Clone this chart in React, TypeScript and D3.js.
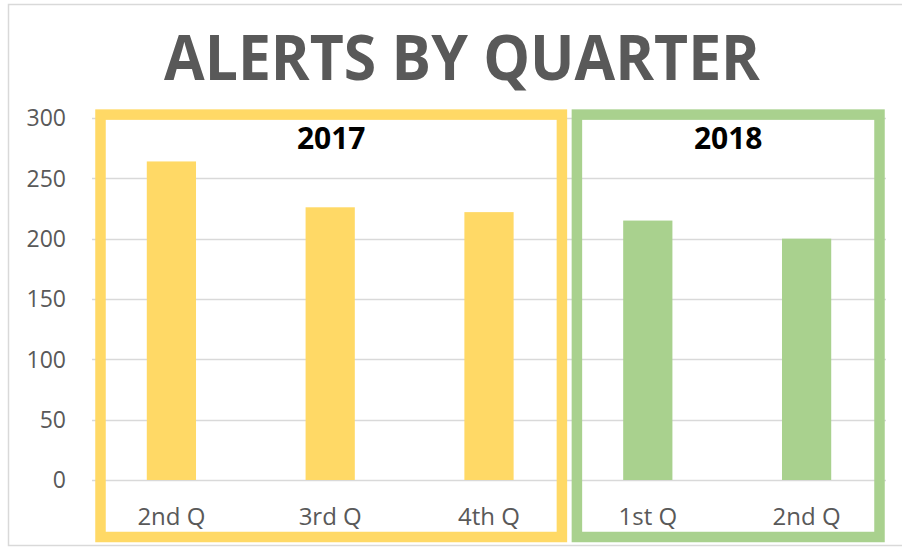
import React, { useEffect, useRef } from 'react';
import * as d3 from 'd3';

const quarters = ['2nd Q', '3rd Q', '4th Q', '1st Q', '2nd Q'];
const years = ['2017', '2017', '2017', '2018', '2018'];
const alerts = [264, 226, 222, 215, 200];
const yTicks = [0, 50, 100, 150, 200, 250, 300];
const yearGroups = ['2017', '2018'];
const yearColors = ['#FFD966', '#A9D18E'];

const App = () => {
  const svgRef = useRef<SVGSVGElement>(null);
  const svgWidth = 902;
  const svgHeight = 548;
  const plot = { left: 92, right: 886, top: 118, bottom: 480 };

  useEffect(() => {
    const svg = d3.select(svgRef.current);
    svg.selectAll('*').remove();

    const font = "'Open Sans', sans-serif";
    const textColor = '#595959';

    const x = d3.scaleBand<number>()
      .domain(d3.range(quarters.length))
      .range([plot.left, plot.right])
      .paddingInner(0.69)
      .paddingOuter(0.345);

    const y = d3.scaleLinear()
      .domain([0, 300])
      .range([plot.bottom, plot.top]);

    const color = d3.scaleOrdinal<string, string>()
      .domain(yearGroups)
      .range(yearColors);

    // chart frame
    svg.append('rect')
      .attr('x', 8.5).attr('y', 4.5)
      .attr('width', 900).attr('height', 541)
      .attr('fill', 'white')
      .attr('stroke', '#d9d9d9')
      .attr('stroke-width', 1.5);

    // title
    svg.append('text')
      .attr('x', 462).attr('y', 80)
      .attr('text-anchor', 'middle')
      .attr('font-family', font)
      .attr('font-weight', 700)
      .attr('font-size', 63)
      .attr('fill', textColor)
      .attr('textLength', 596)
      .attr('lengthAdjust', 'spacingAndGlyphs')
      .text('ALERTS BY QUARTER');

    // gridlines
    svg.append('g')
      .selectAll('line')
      .data(yTicks)
      .enter().append('line')
      .attr('x1', plot.left).attr('x2', plot.right)
      .attr('y1', d => Math.round(y(d)) + 0.5)
      .attr('y2', d => Math.round(y(d)) + 0.5)
      .attr('stroke', '#d9d9d9')
      .attr('stroke-width', 1.3);

    // y tick labels
    svg.append('g')
      .selectAll('text')
      .data(yTicks)
      .enter().append('text')
      .attr('x', 66)
      .attr('y', d => y(d))
      .attr('dy', '0.36em')
      .attr('text-anchor', 'end')
      .attr('font-family', font)
      .attr('font-size', 23)
      .attr('fill', textColor)
      .text(d => d);

    // bars
    svg.append('g')
      .selectAll('rect')
      .data(alerts)
      .enter().append('rect')
      .attr('x', (d, i) => x(i))
      .attr('y', d => y(d))
      .attr('width', x.bandwidth())
      .attr('height', d => y(0) - y(d))
      .attr('fill', (d, i) => color(years[i]));

    // category labels
    svg.append('g')
      .selectAll('text')
      .data(quarters)
      .enter().append('text')
      .attr('x', (d, i) => x(i) + x.bandwidth() / 2)
      .attr('y', 525)
      .attr('text-anchor', 'middle')
      .attr('font-family', font)
      .attr('font-size', 24)
      .attr('fill', textColor)
      .text(d => d);

    // year boxes
    const step = x.step();
    yearGroups.forEach(year => {
      const idx = years.map((yr, i) => (yr === year ? i : -1)).filter(i => i >= 0);
      const x0 = plot.left + step * idx[0] + 8.5;
      const x1 = plot.left + step * (idx[idx.length - 1] + 1) - 6.5;
      svg.append('rect')
        .attr('x', x0).attr('y', 114.6)
        .attr('width', x1 - x0).attr('height', 537 - 114.6)
        .attr('fill', 'none')
        .attr('stroke', color(year))
        .attr('stroke-width', 10.5);
      svg.append('text')
        .attr('x', (x0 + x1) / 2)
        .attr('y', 149)
        .attr('text-anchor', 'middle')
        .attr('font-family', font)
        .attr('font-weight', 700)
        .attr('font-size', 30)
        .attr('fill', '#000')
        .text(year);
    });
  }, []);

  return (
    <svg
      ref={svgRef}
      width={svgWidth}
      height={svgHeight}
      style={{ position: 'absolute', left: 0, top: 0 }}
    ></svg>
  );
};

export default App;
